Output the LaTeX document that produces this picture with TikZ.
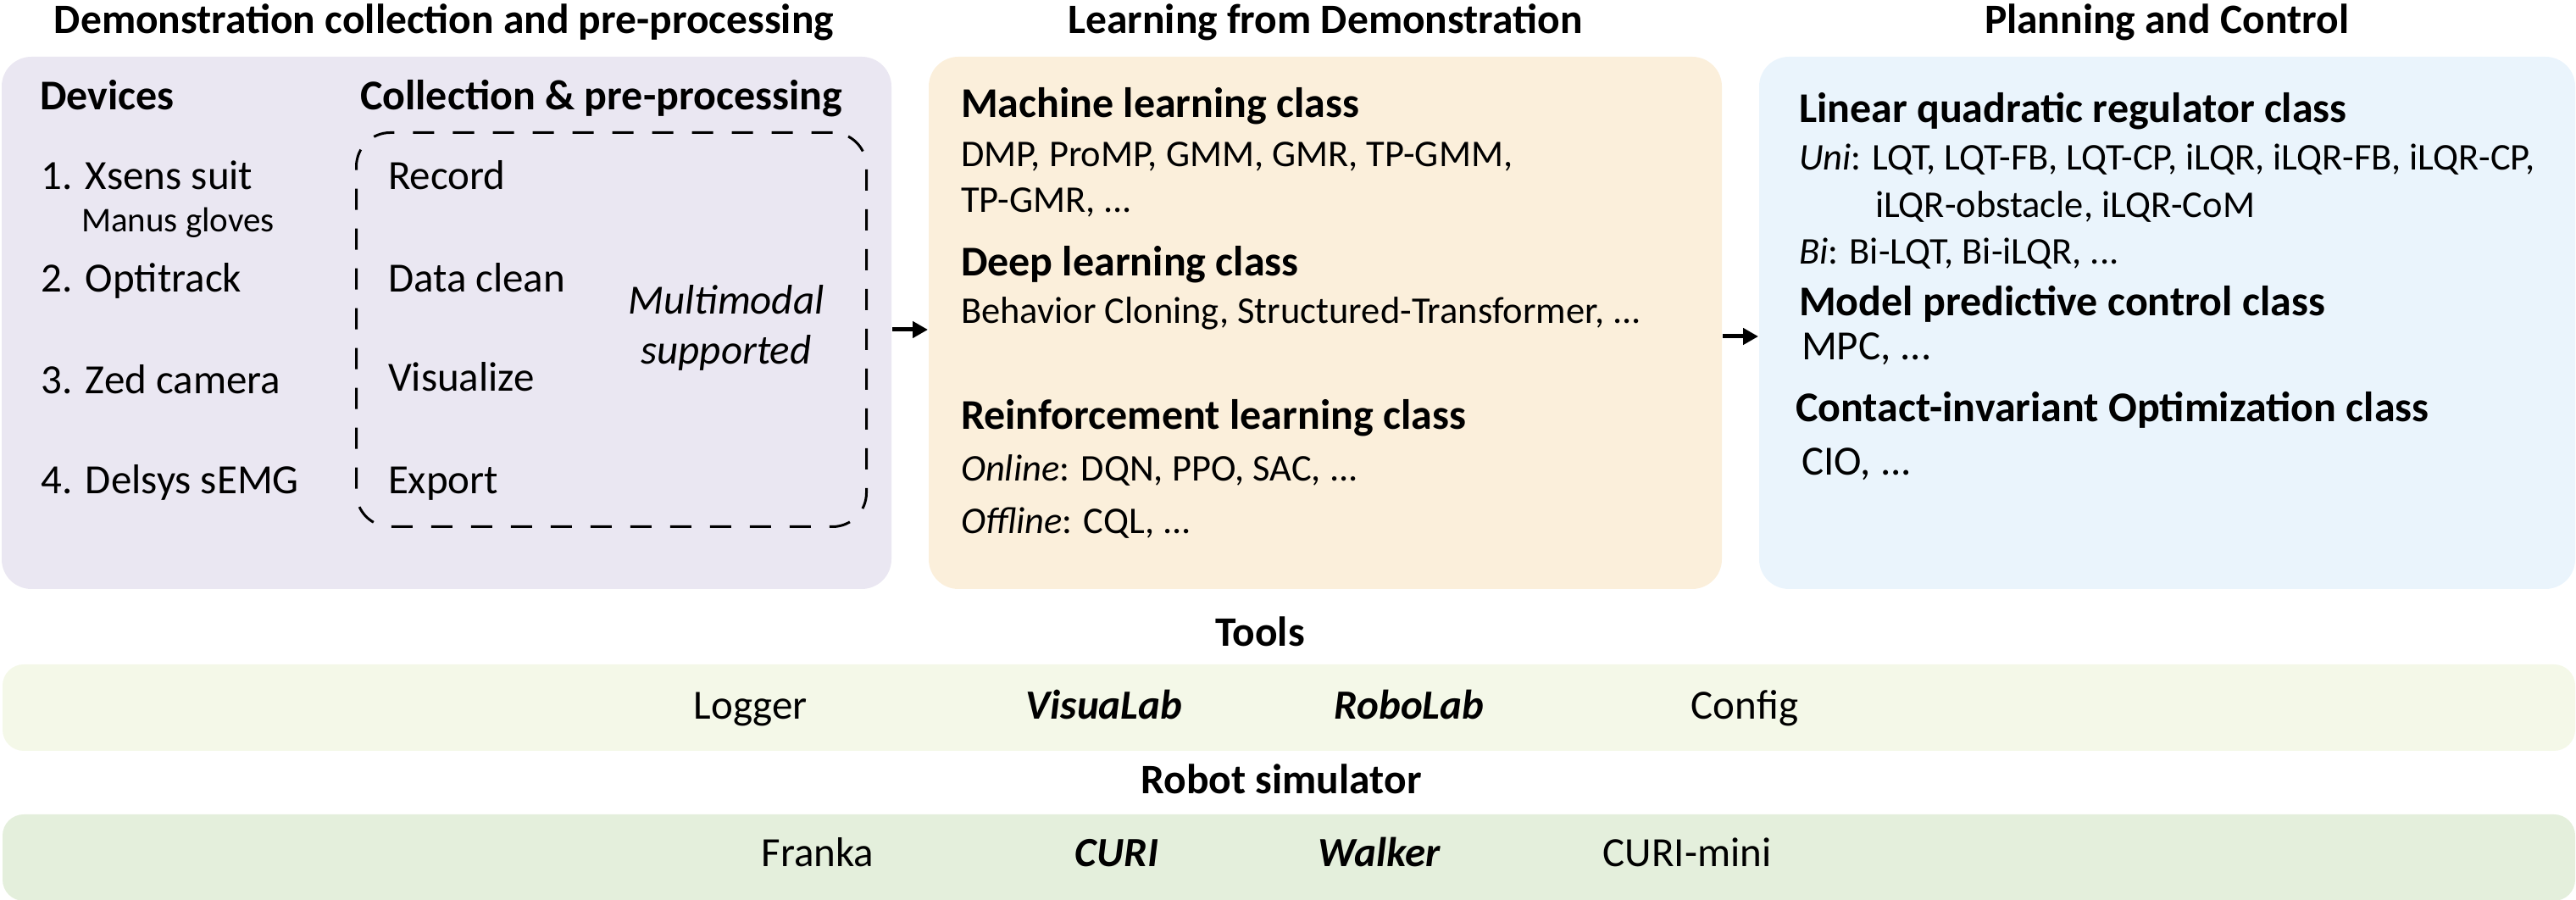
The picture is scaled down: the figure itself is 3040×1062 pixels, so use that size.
\documentclass[tikz,border=0pt]{standalone}
\usepackage{fontspec}
\setmainfont{Carlito}
\usetikzlibrary{arrows.meta}
\def\px{0.2pt}
\definecolor{cDemo}{HTML}{EAE7F2}
\definecolor{cLfd}{HTML}{FBEFDB}
\definecolor{cPlan}{HTML}{EAF4FC}
\definecolor{cTools}{HTML}{F4F8E8}
\definecolor{cSim}{HTML}{E4EFDC}
\tikzset{
  panel/.style={draw=none, rounded corners=7pt, anchor=north west, inner sep=0pt},
  bar/.style={draw=none, rounded corners=5pt, anchor=north west, inner sep=0pt},
  dashbox/.style={draw=black, line width=0.6pt, dash pattern=on 5pt off 4.4pt, rounded corners=8pt, anchor=north west, inner sep=0pt},
  ttl/.style={anchor=base, inner sep=0pt, font=\fontsize{9.9pt}{12pt}\selectfont\bfseries},
  hd/.style={anchor=base west, inner sep=0pt, font=\fontsize{10pt}{12pt}\selectfont\bfseries},
  bodyL/.style={anchor=base west, inner sep=0pt, font=\fontsize{9.8pt}{12pt}\selectfont},
  bodyS/.style={anchor=base west, inner sep=0pt, font=\fontsize{8.9pt}{11pt}\selectfont},
  note/.style={anchor=base west, inner sep=0pt, font=\fontsize{8.2pt}{10pt}\selectfont},
  item/.style={anchor=base, inner sep=0pt, font=\fontsize{9.8pt}{12pt}\selectfont},
  itemb/.style={anchor=base, inner sep=0pt, font=\fontsize{9.8pt}{12pt}\selectfont\bfseries\itshape},
  flow/.style={line width=1pt, -{Triangle[length=3.6pt, width=3.8pt]}},
}
\begin{document}
\begin{tikzpicture}[x=0.2pt, y=-0.2pt]
\useasboundingbox (0,0) rectangle (3040,1062);

% panels
\node[panel, fill=cDemo, minimum width=1050*\px, minimum height=628*\px] (b1) at (1,66) {};
\node[panel, fill=cLfd, minimum width=936*\px, minimum height=628*\px] (b2) at (1095,66) {};
\node[panel, fill=cPlan, minimum width=963*\px, minimum height=628*\px] (b3) at (2075,66) {};
\node[bar, fill=cTools, minimum width=3036*\px, minimum height=102*\px] (tb) at (2,783) {};
\node[bar, fill=cSim, minimum width=3036*\px, minimum height=102*\px] (sb) at (2,960) {};

% titles
\node[ttl] (t1) at (524,40) {Demonstration collection and pre-processing};
\node[ttl] (t2) at (1564,40) {Learning from Demonstration};
\node[ttl] (t3) at (2557,40) {Planning and Control};
\node[ttl] (t4) at (1487,763) {Tools};
\node[ttl] (t5) at (1512,937) {Robot simulator};

% left panel
\node[hd] (dev) at (46,130) {Devices};
\node[hd] (col) at (424,130) {Collection \& pre-processing};
\node[dashbox, minimum width=602*\px, minimum height=465*\px] (dbox) at (419,155) {};
\node[bodyL] (d1) at (48,224) {1. Xsens suit};
\node[note] (d1b) at (95,274) {Manus gloves};
\node[bodyL] (d2) at (48,345) {2. Optitrack};
\node[bodyL] (d3) at (48,465) {3. Zed camera};
\node[bodyL] (d4) at (48,583) {4. Delsys sEMG};
\node[bodyL] (p1) at (457,224) {Record};
\node[bodyL] (p2) at (457,345) {Data clean};
\node[bodyL] (p3) at (457,462) {Visualize};
\node[bodyL] (p4) at (457,583) {Export};
\node[item, font=\fontsize{9.8pt}{12pt}\selectfont\itshape] (mm1) at (857,371) {Multimodal};
\node[item, font=\fontsize{9.8pt}{12pt}\selectfont\itshape] (mm2) at (857,430) {supported};

% middle panel
\node[hd] (ml) at (1133,139) {Machine learning class};
\node[bodyS] (ml1) at (1133,197) {DMP, ProMP, GMM, GMR, TP-GMM,};
\node[bodyS] (ml2) at (1133,251) {TP-GMR, ...};
\node[hd] (dl) at (1133,326) {Deep learning class};
\node[bodyS] (dl1) at (1133,382) {Behavior Cloning, Structured-Transformer, ...};
\node[hd] (rl) at (1133,507) {Reinforcement learning class};
\node[bodyS] (rl1) at (1133,568) {\textit{Online}: DQN, PPO, SAC, ...};
\node[bodyS] (rl2) at (1133,630) {\textit{Offline}: CQL, ...};

% right panel
\node[hd] (lq) at (2122,145) {Linear quadratic regulator class};
\node[bodyS] (lq1) at (2122,201) {\textit{Uni}: LQT, LQT-FB, LQT-CP, iLQR, iLQR-FB, iLQR-CP,};
\node[bodyS] (lq2) at (2212,257) {iLQR-obstacle, iLQR-CoM};
\node[bodyS] (lq3) at (2122,312) {\textit{Bi}: Bi-LQT, Bi-iLQR, ...};
\node[hd] (mp) at (2122,373) {Model predictive control class};
\node[bodyL] (mp1) at (2125,425) {MPC, ...};
\node[hd] (ci) at (2118,498) {Contact-invariant Optimization class};
\node[bodyL] (ci1) at (2125,561) {CIO, ...};

% tools
\node[item] (tl1) at (886,849) {Logger};
\node[itemb] (tl2) at (1303,849) {VisuaLab};
\node[itemb] (tl3) at (1663,849) {RoboLab};
\node[item] (tl4) at (2059,849) {Config};

% simulator
\node[item] (sm1) at (965,1023) {Franka};
\node[itemb] (sm2) at (1318,1023) {CURI};
\node[itemb] (sm3) at (1628,1023) {Walker};
\node[item] (sm4) at (1991,1023) {CURI-mini};

% arrows
\draw[flow] ([yshift=-8*\px]b1.east) -- ([yshift=-8*\px]b2.west);
\draw[flow] ([yshift=-16*\px]b2.east) -- ([yshift=-16*\px]b3.west);
\end{tikzpicture}
\end{document}
